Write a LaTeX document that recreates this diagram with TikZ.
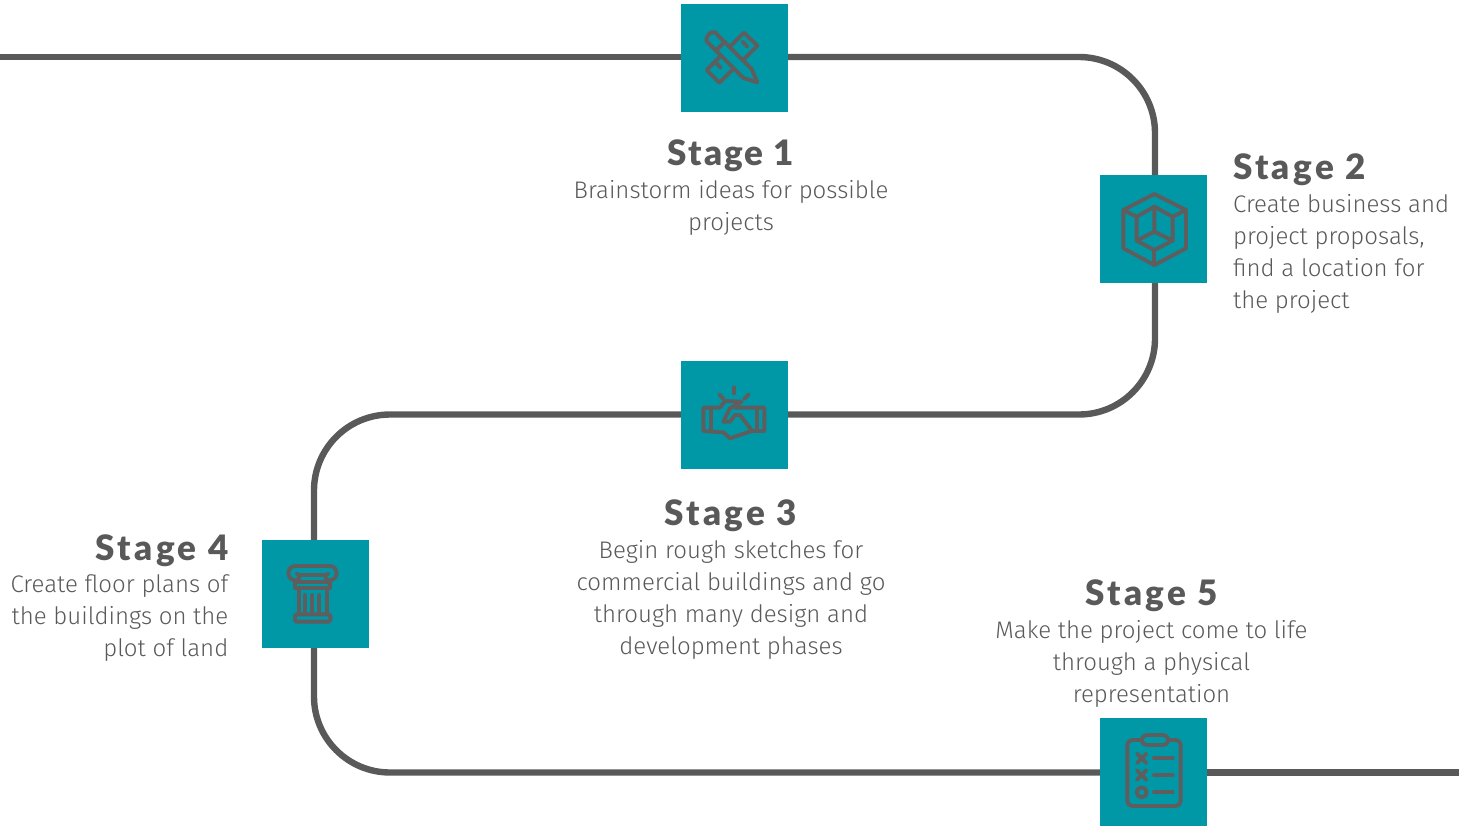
\documentclass[tikz,border=0pt]{standalone}
\usepackage{fontspec}
\newfontfamily\bodyfont{Fira Sans Light}
\newfontfamily\headfont[LetterSpace=6]{Lato Black}
\newfontfamily\headwidefont[LetterSpace=9.5]{Lato Black}
\definecolor{teal1}{HTML}{0097A7}
\definecolor{ink}{HTML}{595959}
\definecolor{iconink}{HTML}{5E5E5E}
\tikzset{
  x=1pt,y=-1pt,
  track/.style={draw=ink,line width=6.4pt,rounded corners=76pt},
  stagebox/.style={fill=teal1,draw=none,minimum width=107pt,minimum height=108pt,inner sep=0pt,anchor=center},
  icon/.style={draw=iconink,line width=3.9pt,line cap=round,line join=round},
  head/.style={text=ink,font=\headfont\fontsize{35}{35}\selectfont,inner sep=0pt,anchor=base},
  headwide/.style={text=ink,font=\headwidefont\fontsize{35}{35}\selectfont,inner sep=0pt,anchor=base},
  bodytext/.style={text=ink,font=\bodyfont\fontsize{24}{32}\selectfont,inner sep=0pt,anchor=north},
}
\begin{document}
\begin{tikzpicture}
\useasboundingbox (0,0) rectangle (1459,827);
\coordinate (start) at (0,57);
\coordinate (finish) at (1459,772.5);
\node[stagebox] (s1) at (734.5,58) {};
\node[stagebox] (s2) at (1153.5,229) {};
\node[stagebox] (s3) at (734.5,415) {};
\node[stagebox] (s4) at (315.5,594) {};
\node[stagebox] (s5) at (1153.5,772) {};
\draw[track] (start) -- ([yshift=1pt]s1.west);
\draw[track] ([yshift=1pt]s1.east) -| ([xshift=1.5pt]s2.north);
\draw[track] ([xshift=1.5pt]s2.south) |- ([yshift=0.5pt]s3.east);
\draw[track] ([yshift=0.5pt]s3.west) -| ([xshift=-1.5pt]s4.north);
\draw[track] ([xshift=-1.5pt]s4.south) |- ([yshift=-0.5pt]s5.west);
\draw[track] ([yshift=-0.5pt]s5.east) -- (finish);
% icon 1
\begin{scope}[shift={(670,0)},scale=1/3]
\draw[icon] (110,124) .. controls (104,112) and (123,91) .. (135,97) -- (245,207) -- (262,247) -- (220,234) -- cycle;
\draw[icon] (140,150) -- (165,125);
\draw[icon] (179,141) -- (222,98) -- (262,137) -- (218.5,180.5);
\draw[icon] (153,167) -- (110,210) -- (148,248) -- (191,205);
\draw[icon] (218,125) -- (232,140);
\draw[icon] (140,190) -- (152,203);
\end{scope}
% icon 2
\begin{scope}[shift={(1090,170)},scale=1/3]
\draw[icon] (193,72) -- (288,120) -- (288,235) -- (193,285) -- (100,235) -- (100,120) -- cycle;
\draw[icon] (193,110) -- (248,140) -- (248,212) -- (193,240) -- (140,212) -- (140,140) -- cycle;
\draw[icon] (100,120) -- (140,140);
\draw[icon] (288,120) -- (248,140);
\draw[icon] (193,240) -- (193,285);
\draw[icon] (193,110) -- (193,185) -- (140,212);
\draw[icon] (193,185) -- (248,212);
\end{scope}
% icon 3
\begin{scope}[shift={(670,355)},scale=1/3]
\draw[icon] (192,97) -- (192,115);
\draw[icon] (148,118) -- (160,132);
\draw[icon] (236,118) -- (222,132);
\draw[icon] (195,158) -- (283,158) -- (283,228) -- (245,228) -- (180,250) -- (160,232) -- (100,228) -- (100,158) -- (150,158) -- (165,138) -- (215,140) -- (180,160) -- (160,200) -- (180,200) -- (195,180) -- (210,180) -- (245,226);
\draw[icon] (122,160) -- (122,228);
\draw[icon] (262,160) -- (262,228);
\end{scope}
% icon 4
\begin{scope}[shift={(255,535)},scale=1/3]
\draw[icon] (135,120) -- (210,120);
\draw[icon] (122,93) -- (223,93);
\draw[icon] (223,93) .. controls (252,93) and (252,136) .. (223,136) .. controls (210,136) and (206,119) .. (220,116);
\draw[icon] (122,93) .. controls (93,93) and (93,136) .. (122,136) .. controls (135,136) and (139,119) .. (125,116);
\draw[icon] (120,136) -- (120,158) -- (225,158) -- (225,136);
\draw[icon] (122,140) -- (223,140);
\draw[icon] (132,158) -- (132,238);
\draw[icon] (215,158) -- (215,238);
\draw[icon] (150,180) -- (150,232);
\draw[icon] (172,180) -- (172,232);
\draw[icon] (192,180) -- (192,232);
\draw[icon,rounded corners=2pt] (120,238) rectangle (226,260);
\end{scope}
% icon 5
\begin{scope}[shift={(1090,710)},scale=1/3]
\draw[icon,rounded corners=5pt] (112,90) rectangle (272,288);
\draw[icon,fill=teal1,rounded corners=5pt] (155,75) rectangle (235,105);
\draw[icon] (141,131) -- (169,159);
\draw[icon] (141,159) -- (169,131);
\draw[icon] (141,181) -- (169,209);
\draw[icon] (141,209) -- (169,181);
\draw[icon] (155,247) circle[radius=15];
\draw[icon] (192,145) -- (248,145);
\draw[icon] (192,196) -- (248,196);
\draw[icon] (192,247) -- (248,247);
\end{scope}
\node[head] (h1) at (731,165) {Stage 1};
\node[bodytext,align=center] (b1) at (731,180) {Brainstorm ideas for possible\\projects};
\node[headwide,anchor=base west] (h2) at (1233,179) {Stage 2};
\node[bodytext,align=left,anchor=north west] (b2) at (1233,194) {Create business and\\project proposals,\\find a location for\\the project};
\node[headwide] (h3) at (731,525) {Stage 3};
\node[bodytext,align=center] (b3) at (731,540) {Begin rough sketches for\\commercial buildings and go\\through many design and\\development phases};
\node[headwide,anchor=base east] (h4) at (228.5,560) {Stage 4};
\node[bodytext,align=right,anchor=north east] (b4) at (228.5,574) {Create floor plans of\\the buildings on the\\plot of land};
\node[headwide] (h5) at (1151.5,605) {Stage 5};
\node[bodytext,align=center] (b5) at (1151.5,620) {Make the project come to life\\through a physical\\representation};
\end{tikzpicture}
\end{document}
